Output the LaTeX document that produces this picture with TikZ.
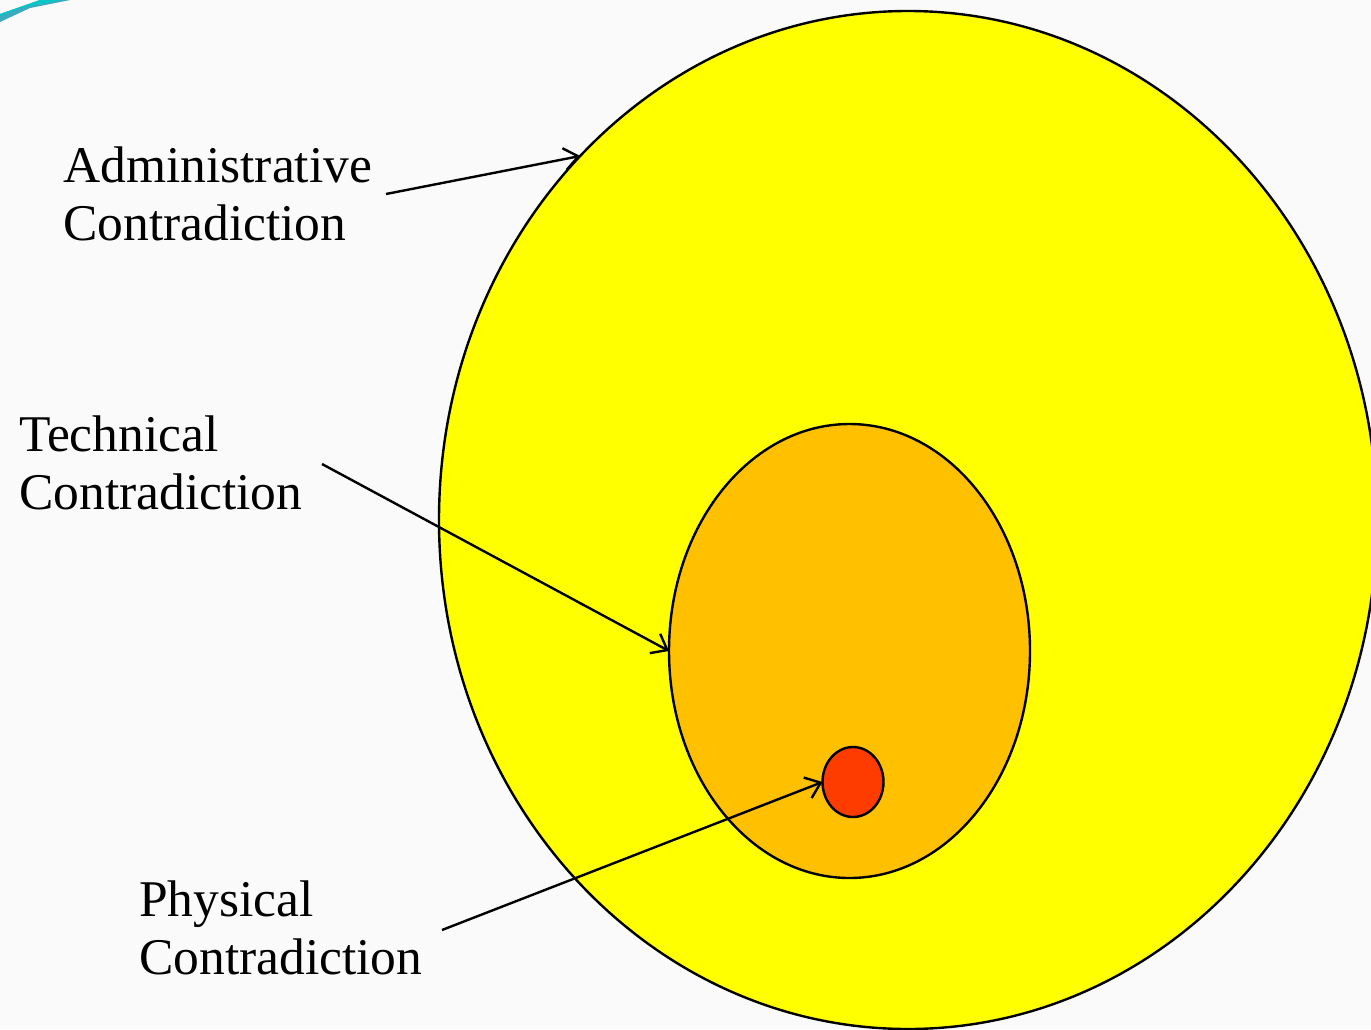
\documentclass[tikz,border=0pt]{standalone}
\usepackage{fontspec}
\setmainfont{Liberation Serif}
\usetikzlibrary{arrows.meta,shapes.geometric}
\definecolor{bgcol}{RGB}{250,250,250}
\definecolor{adminfill}{RGB}{255,255,0}
\definecolor{techfill}{RGB}{255,192,0}
\definecolor{physfill}{RGB}{255,60,0}
\definecolor{tealA}{RGB}{0,200,200}
\definecolor{tealB}{RGB}{60,170,190}
\begin{document}
\begin{tikzpicture}[x=1pt,y=-1pt,
  region/.style={draw=black,line width=2.4pt,ellipse,inner sep=0pt,outer sep=0pt},
  label/.style={anchor=north west,inner sep=0pt,align=left,font=\fontsize{51.5}{58}\selectfont},
  pointer/.style={draw=black,line width=2.4pt,-{Straight Barb[length=14pt,width=22pt,line width=2.4pt]}}]
\useasboundingbox (0,0) rectangle (1371,1029);
\clip (0,0) rectangle (1371,1029);
\fill[bgcol] (0,0) rectangle (1371,1029);
% teal brush stroke
\fill[tealB] (0,22) -- (30,8) -- (70,0) -- (40,0) -- (0,14) -- cycle;
\fill[tealA] (0,14) -- (40,0) -- (60,0) -- (20,8) -- (0,16) -- cycle;
% regions
\node[region,fill=adminfill,minimum width=938pt,minimum height=1018pt] (admin) at (908,520) {};
\node[region,fill=techfill,minimum width=361pt,minimum height=454pt] (tech) at (849.5,651) {};
\node[region,fill=physfill,minimum width=61pt,minimum height=70pt] (phys) at (853,782) {};
% labels
\node[label] (adminLabel) at (63,147) {Administrative\\Contradiction};
\node[label] (techLabel) at (19,416) {Technical\\Contradiction};
\node[label] (physLabel) at (139,881) {Physical\\Contradiction};
\coordinate (adminStart) at (386,194);
\coordinate (techStart) at (322,464);
\coordinate (physStart) at (442,930);
\draw[pointer] (adminStart) -- (admin.132.6);
\draw[pointer] (techStart) -- (tech.west);
\draw[pointer] (physStart) -- (phys.west);
\end{tikzpicture}
\end{document}
